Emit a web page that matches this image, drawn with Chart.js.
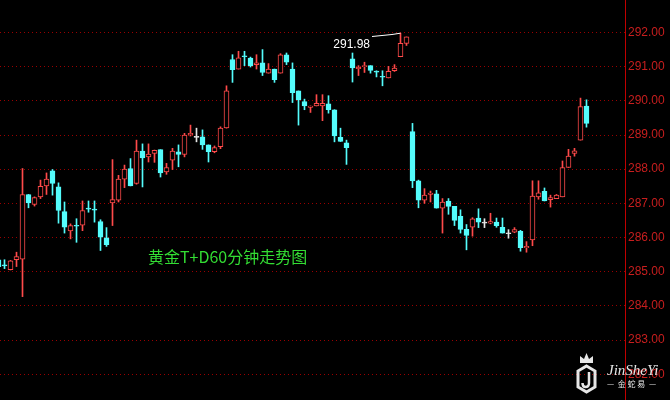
<!DOCTYPE html>
<html>
<head>
<meta charset="utf-8">
<script src="https://cdn.jsdelivr.net/npm/chart.js@4"></script>
<style>
html,body{margin:0;padding:0;background:#000;}
#wrap{width:670px;height:400px;}
</style>
</head>
<body>
<div id="wrap"><canvas id="c" width="670" height="400"></canvas></div>
<script>
// 60-minute candles, gold T+D
const openP  = [285.35,285.18,285.06,285.35,285.37,287.26,286.97,287.19,287.51,287.95,287.48,286.76,286.19,286.35,286.36,286.85,286.83,286.47,285.99,287.01,287.09,287.71,288.02,287.58,288.53,288.36,288.46,288.57,287.92,288.26,288.51,288.43,289.00,288.93,288.95,288.71,288.51,288.66,289.21,291.21,290.93,291.31,291.25,291.06,291.11,290.81,290.93,290.81,291.35,290.93,290.29,289.98,289.81,289.85,289.85,289.91,289.74,288.93,288.77,291.23,290.94,291.00,291.03,290.86,290.71,290.67,290.88,291.29,291.68,289.10,287.66,287.09,287.26,287.28,286.86,287.07,286.91,286.62,286.24,286.30,286.57,286.42,286.42,286.45,286.30,286.11,286.16,286.18,285.70,285.93,287.19,287.35,287.11,287.14,287.19,288.05,288.46,288.85,289.85];
const highP  = [285.40,285.35,285.33,285.57,288.02,287.26,287.19,287.68,287.89,287.99,287.60,287.04,286.40,286.55,287.07,287.07,287.07,286.52,286.29,288.28,287.82,288.12,288.31,288.85,288.74,288.74,288.56,288.57,288.17,288.61,288.71,289.05,289.29,289.20,289.15,288.71,288.68,289.24,290.44,291.35,291.45,291.45,291.28,291.35,291.50,291.09,290.93,291.38,291.40,291.11,290.29,290.05,289.85,290.18,290.18,290.15,289.74,289.20,288.85,291.40,291.03,291.13,291.03,290.88,290.88,291.01,291.06,291.98,291.87,289.34,287.68,287.43,287.36,287.38,287.14,287.14,286.91,286.81,286.38,286.58,286.84,286.55,286.71,286.57,286.57,286.23,286.29,286.21,285.88,287.66,287.66,287.45,287.24,287.26,288.24,288.58,288.61,290.08,290.03];
const lowP   = [285.10,285.09,285.05,285.15,284.27,286.87,286.92,287.14,287.26,287.24,286.42,286.13,285.96,285.86,286.20,286.74,286.45,285.62,285.74,286.35,287.04,287.46,287.51,287.56,287.48,288.21,288.20,287.77,287.85,287.99,288.07,288.36,288.97,288.80,288.58,288.21,288.48,288.60,289.20,290.54,290.93,291.03,290.99,290.93,290.74,290.81,290.54,290.81,291.06,289.95,289.29,289.74,289.66,289.85,289.42,289.64,288.80,288.81,288.14,290.55,290.74,290.83,290.81,290.70,290.44,290.67,290.86,291.29,291.62,287.46,286.87,287.00,287.04,286.86,286.13,286.68,286.35,286.13,285.64,286.04,286.29,286.29,286.40,286.30,286.13,285.98,286.14,285.60,285.57,285.76,287.12,287.07,286.89,287.14,287.19,288.05,288.38,288.85,289.23];
const closeP = [285.15,285.17,285.32,285.44,287.26,287.01,287.17,287.50,287.71,287.58,286.79,286.30,286.35,286.33,286.79,286.83,286.80,286.01,285.79,287.11,287.71,288.00,287.51,288.53,288.33,288.44,288.55,287.89,288.05,288.53,288.43,289.00,289.05,288.93,288.71,288.51,288.63,289.20,290.29,290.91,291.26,291.29,291.03,291.11,290.83,290.93,290.62,291.35,291.13,290.24,290.03,289.85,289.85,289.93,289.93,289.74,288.97,288.81,288.63,290.96,290.98,291.03,290.89,290.84,290.69,290.86,290.96,291.68,291.87,287.66,287.09,287.24,287.30,286.86,287.04,286.91,286.50,286.24,286.06,286.55,286.45,286.42,286.47,286.35,286.13,286.11,286.23,285.70,285.74,287.21,287.31,287.07,287.17,287.24,288.05,288.38,288.54,289.83,289.34];
const tickValues = [282,283,284,285,286,287,288,289,290,291,292];
const titleText = '黄金T+D60分钟走势图';
const markIndex = 67; // candle whose high is labelled

const UP = '#ff4a4a', DOWN = '#54fcfc', FLAT = '#e6e6e6';
const idx = openP.map((_, i) => i);
const colorOf = i => closeP[i] > openP[i] ? UP : (closeP[i] < openP[i] ? DOWN : FLAT);

const bgPlugin = {
  id: 'bg',
  beforeDraw(chart) {
    const ctx = chart.ctx;
    ctx.save(); ctx.fillStyle = '#000'; ctx.fillRect(0, 0, chart.width, chart.height); ctx.restore();
  },
  afterDraw(chart) {
    const ctx = chart.ctx, xs = chart.scales.x, ys = chart.scales.y, ca = chart.chartArea;
    ctx.save();
    // axis line
    ctx.strokeStyle = '#c00000'; ctx.lineWidth = 1;
    ctx.beginPath(); ctx.moveTo(Math.round(ca.right) + 0.5, 0); ctx.lineTo(Math.round(ca.right) + 0.5, chart.height); ctx.stroke();
    // title
    ctx.fillStyle = '#33dd33';
    ctx.font = '16px "Noto Sans CJK SC", sans-serif';
    ctx.textAlign = 'left'; ctx.textBaseline = 'middle';
    ctx.fillText(titleText, 148, 257);
    // high annotation
    const hx = xs.getPixelForValue(markIndex), hy = ys.getPixelForValue(highP[markIndex]);
    ctx.fillStyle = '#ffffff';
    ctx.font = '12px "Liberation Sans", Arial, sans-serif';
    ctx.textAlign = 'right';
    ctx.fillText(highP[markIndex].toFixed(2), 370, 45);
    ctx.strokeStyle = '#ffffff'; ctx.lineWidth = 1;
    ctx.beginPath(); ctx.moveTo(372, 36.5); ctx.lineTo(392, 34.5); ctx.lineTo(hx, hy); ctx.stroke();
    // watermark
    ctx.globalAlpha = 0.9;
    ctx.strokeStyle = '#ffffff'; ctx.fillStyle = '#ffffff';
    ctx.beginPath();
    ctx.moveTo(580, 363); ctx.lineTo(580, 356); ctx.lineTo(584, 359); ctx.lineTo(586.5, 353);
    ctx.lineTo(589, 359); ctx.lineTo(593, 356); ctx.lineTo(593, 363); ctx.closePath(); ctx.fill();
    ctx.lineWidth = 3;
    ctx.beginPath();
    ctx.moveTo(586.5, 366); ctx.lineTo(595, 371); ctx.lineTo(595, 387); ctx.lineTo(586.5, 392);
    ctx.lineTo(578, 387); ctx.lineTo(578, 371); ctx.closePath(); ctx.stroke();
    ctx.lineWidth = 2.5;
    ctx.beginPath(); ctx.moveTo(589, 372); ctx.lineTo(589, 383); ctx.quadraticCurveTo(589, 387, 585.5, 387);
    ctx.quadraticCurveTo(582.5, 387, 582.5, 383); ctx.stroke();
    ctx.font = 'italic 15px "Liberation Serif", serif';
    ctx.textAlign = 'left';
    ctx.fillText('JinSheYi', 607, 371);
    ctx.font = '8px "Noto Sans CJK SC", sans-serif';
    ctx.fillText('—  金 蛇 易  —', 607, 384);
    ctx.restore();
  }
};

new Chart(document.getElementById('c'), {
  type: 'bar',
  data: {
    datasets: [
      {
        label: 'body',
        order: 0,
        data: idx.map(i => ({ x: i, y: [openP[i], closeP[i]] })),
        backgroundColor: idx.map(i => closeP[i] > openP[i] ? '#000000' : colorOf(i)),
        borderColor: idx.map(colorOf),
        borderWidth: 1,
        borderSkipped: false,
        barThickness: 5,
        minBarLength: 1,
        grouped: false
      },
      {
        label: 'wick',
        order: 1,
        data: idx.map(i => ({ x: i, y: [lowP[i], highP[i]] })),
        backgroundColor: idx.map(colorOf),
        borderWidth: 0,
        barThickness: 1,
        grouped: false
      }
    ]
  },
  options: {
    responsive: false,
    devicePixelRatio: 1,
    animation: false,
    layout: { padding: 0 },
    plugins: { legend: { display: false }, tooltip: { enabled: false }, title: { display: false } },
    scales: {
      x: {
        type: 'linear',
        display: false,
        min: 0.25,
        max: 104.42,
        offset: false
      },
      y: {
        position: 'right',
        min: 281.245,
        max: 292.951,
        afterBuildTicks: s => { s.ticks = tickValues.map(v => ({ value: v })); },
        afterFit: s => { s.width = 45; s.paddingTop = 0; s.paddingBottom = 0; },
        grid: { color: '#9a0000', lineWidth: 1, drawTicks: false },
        border: { display: false, dash: [1, 3] },
        ticks: {
          color: '#c81e1e',
          padding: 3,
          font: { family: '"Liberation Sans", Arial, sans-serif', size: 12 },
          callback: v => Number(v).toFixed(2)
        }
      }
    }
  },
  plugins: [bgPlugin]
});
</script>
</body>
</html>
